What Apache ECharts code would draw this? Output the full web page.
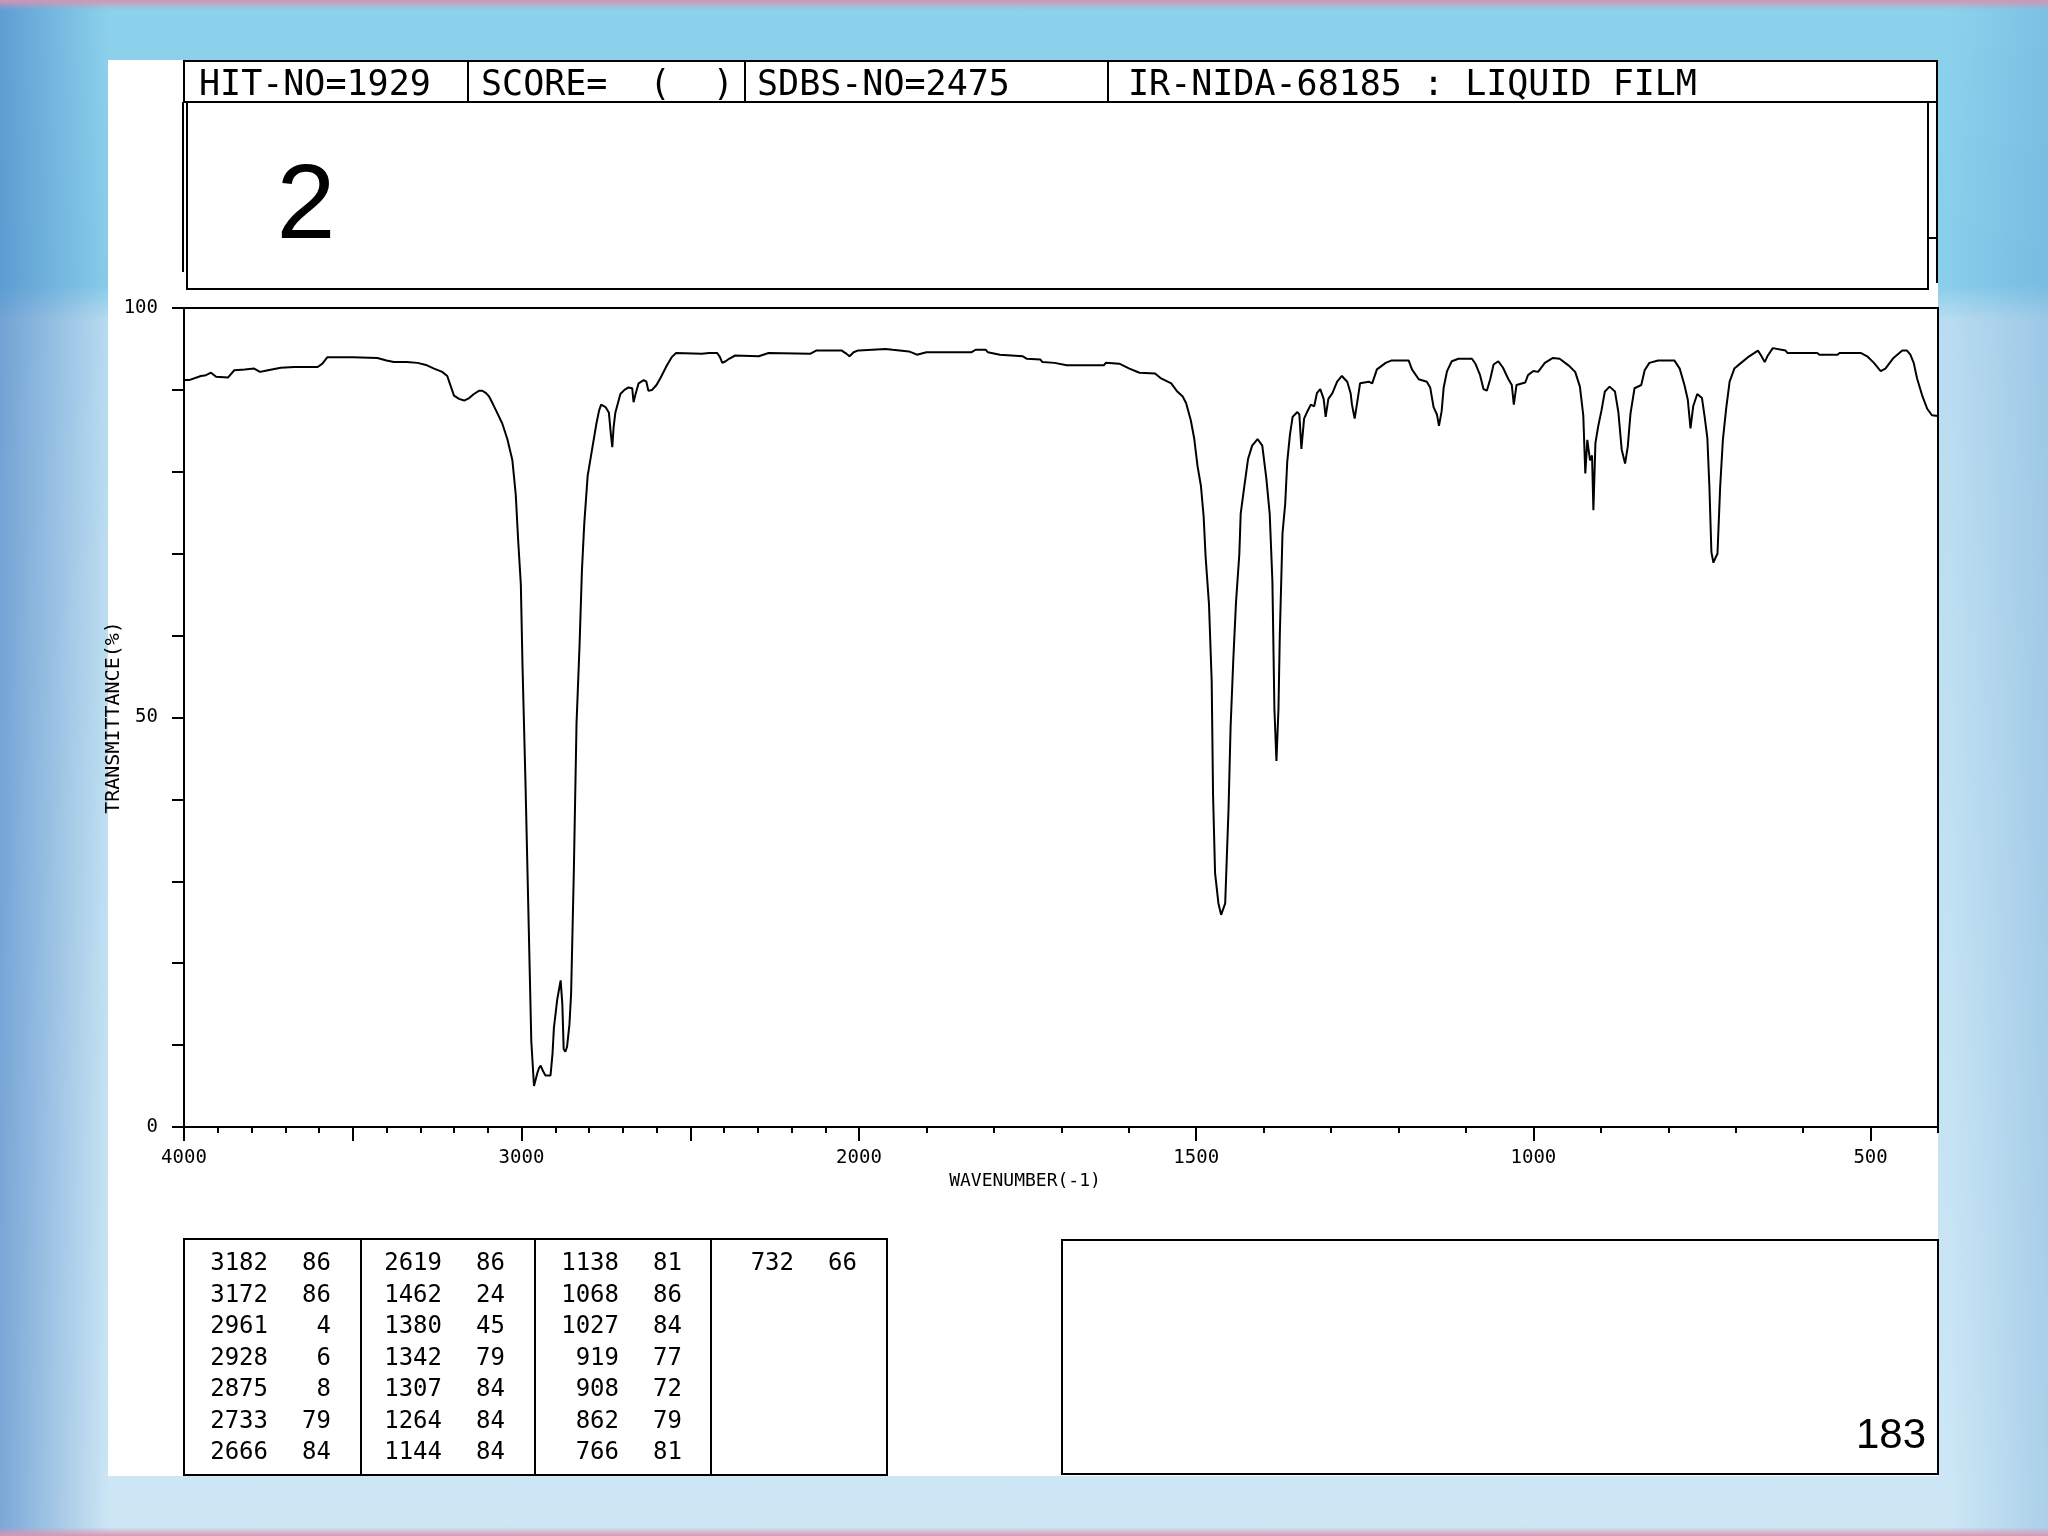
<!DOCTYPE html>
<html><head><meta charset="utf-8">
<script src="https://cdn.jsdelivr.net/npm/echarts@6/dist/echarts.min.js"></script>
<style>
html,body{margin:0;padding:0;width:2048px;height:1536px;overflow:hidden;}
body{
 background:
  linear-gradient(to bottom, rgba(212,148,178,1) 0px, rgba(212,148,178,0) 10px),
  linear-gradient(to top, rgba(218,150,180,1) 0px, rgba(218,150,180,0) 9px),
  linear-gradient(to right, rgba(55,115,190,0.55) 0px, rgba(55,115,190,0) 110px),
  linear-gradient(to left, rgba(70,140,200,0.25) 0px, rgba(70,140,200,0) 100px),
  linear-gradient(to bottom, #8dd2ec 0px, #88cdea 285px, #b9dcf0 320px, #cde7f5 1536px);
}
#chart{width:2048px;height:1536px;}
</style></head><body><div id="chart"></div>
<script>
// ---- spectrum data: 4000-2000 cm-1 (half scale region)
const highWavenumbers = [4000,3985,3950,3935,3920,3905,3870,3851,3820,3792,3775,3762,3740,3713,3674,3604,3590,3575,3500,3427,3400,3378,3340,3308,3280,3259,3235,3220,3210,3200,3185,3170,3155,3141,3125,3116,3105,3096,3085,3072,3057,3042,3027,3017,3010,3002,2997,2988,2978,2971,2963,2958,2953,2948,2943,2936,2929,2914,2908,2904,2894,2884,2879,2875,2870,2865,2858,2853,2845,2837,2828,2821,2814,2804,2791,2778,2770,2764,2751,2741,2735,2731,2727,2722,2707,2695,2683,2672,2668,2662,2653,2638,2630,2624,2613,2600,2589,2569,2555,2542,2466,2444,2420,2412,2405,2395,2385,2367,2297,2268,2145,2127,2051,2040,2028,2016,2004,2000];
const highTransmittance = [91.2,91.2,91.7,91.8,92.1,91.6,91.5,92.4,92.5,92.6,92.2,92.3,92.5,92.7,92.8,92.8,93.2,94.0,94.0,93.9,93.6,93.4,93.4,93.3,93.0,92.6,92.2,91.7,90.5,89.3,88.9,88.7,89.0,89.5,89.9,89.9,89.6,89.2,88.3,87.2,85.9,84.0,81.4,77.2,71.7,66.3,56.3,41.7,23.4,10.5,5.0,5.2,6.6,7.2,7.5,6.8,6.3,6.3,9.0,12.1,15.6,17.9,15.0,9.5,9.2,9.8,12.5,16.3,31.1,49.2,58.8,67.9,73.7,79.5,82.7,85.9,87.5,88.2,87.9,87.2,84.5,83.0,85.5,87.2,89.5,90.0,90.3,90.2,88.5,89.5,90.8,91.2,91.0,89.9,90.0,90.6,91.4,93.0,94.0,94.5,94.4,94.5,94.5,94.0,93.3,93.5,93.8,94.2,94.1,94.5,94.4,94.8,94.8,94.5,94.1,94.6,94.8,94.8];
// ---- spectrum data: 2000-400 cm-1
const lowWavenumbers = [2000,1961,1950,1926,1914,1900,1891,1833,1827,1812,1809,1791,1757,1751,1731,1728,1710,1692,1637,1634,1614,1599,1584,1561,1552,1537,1528,1520,1515,1508,1503,1498,1493,1489,1486,1481,1477,1475,1472,1467,1463,1457,1452,1449,1445,1441,1436,1434,1429,1423,1417,1409,1402,1396,1391,1387,1384,1381,1378,1376,1372,1368,1365,1361,1357,1350,1347,1344,1340,1335,1330,1325,1321,1316,1311,1308,1304,1298,1291,1284,1276,1271,1269,1265,1261,1257,1244,1239,1232,1219,1210,1185,1180,1170,1158,1153,1148,1143,1140,1136,1133,1128,1121,1111,1091,1086,1079,1074,1069,1064,1059,1052,1045,1037,1032,1029,1025,1012,1008,1000,993,983,971,961,948,938,931,926,923,920,916,913,911,908,904,899,894,887,879,874,869,864,860,856,850,840,835,828,815,791,783,776,771,767,763,757,750,746,742,739,736,733,730,727,723,719,714,709,702,692,680,667,663,657,653,645,626,623,579,576,549,546,514,505,495,485,478,466,453,446,441,436,431,423,416,409,400];
const lowTransmittance = [94.8,95.0,94.9,94.7,94.3,94.6,94.6,94.6,94.9,94.9,94.6,94.3,94.1,93.8,93.7,93.4,93.3,93.0,93.0,93.3,93.2,92.6,92.1,92.0,91.4,90.8,89.8,89.2,88.4,86.3,84.1,80.7,78.3,74.6,69.6,63.8,54.4,40.6,31.0,27.3,25.9,27.3,38.9,48.8,57.0,64.0,70.0,74.9,78.0,81.6,83.2,84.0,83.2,79.2,74.9,66.7,51.0,44.7,51.0,60.1,72.5,76.1,81.2,84.5,86.7,87.3,87.0,82.8,86.5,87.4,88.2,88.0,89.6,90.1,88.9,86.7,88.9,89.6,91.0,91.7,91.0,89.6,88.2,86.5,88.6,90.8,91.0,90.8,92.5,93.3,93.6,93.6,92.5,91.3,91.0,90.3,87.9,87.0,85.6,87.4,90.3,92.3,93.5,93.8,93.8,93.2,91.8,90.1,89.9,91.3,93.1,93.5,92.7,91.3,90.6,88.2,90.6,90.9,91.8,92.3,92.2,93.3,93.9,93.8,93.0,92.2,90.4,86.9,79.8,83.9,81.4,82.0,75.3,83.5,85.5,87.5,89.8,90.4,89.8,87.3,82.7,81.0,83.1,87.1,90.2,90.6,92.4,93.3,93.6,93.6,92.6,90.6,88.8,85.3,88.0,89.5,89.0,86.7,84.1,78.2,70.2,68.9,69.5,70.0,78.2,83.9,87.8,91.0,92.6,93.3,94.1,94.8,94.3,93.4,94.1,95.1,94.8,94.5,94.5,94.3,94.3,94.5,94.5,94.1,93.3,92.3,92.6,93.9,94.8,94.8,94.3,93.3,91.4,89.2,87.7,86.9,86.8];

// ---- tick labels
const yTickLabels = [0, 50, 100];
const xTickLabelsHigh = [4000, 3000, 2000];
const xTickLabelsLow = [1500, 1000, 500];
const xMajorTicksLow = [500, 1000, 1500, 2000];

// ---- header / titles
const headerCells = ['HIT-NO=1929', 'SCORE=  (  )', 'SDBS-NO=2475', 'IR-NIDA-68185 : LIQUID FILM'];
const compoundNumber = '2';
const pageNumber = '183';
const yAxisTitle = 'TRANSMITTANCE(%)';
const xAxisTitle = 'WAVENUMBER(-1)';

// ---- peak table (wavenumber, transmittance)
const peakColumn1 = [[3182,86],[3172,86],[2961,4],[2928,6],[2875,8],[2733,79],[2666,84]];
const peakColumn2 = [[2619,86],[1462,24],[1380,45],[1342,79],[1307,84],[1264,84],[1144,84]];
const peakColumn3 = [[1138,81],[1068,86],[1027,84],[919,77],[908,72],[862,79],[766,81]];
const peakColumn4 = [[732,66]];

const MONO = '"DejaVu Sans Mono", "Liberation Mono", monospace';
const SANS = '"Liberation Sans", Arial, sans-serif';

const chart = echarts.init(document.getElementById('chart'), null, {renderer: 'canvas'});

const blackLine = {color: '#000', width: 2};
const axisLblBase = {color: '#000', fontFamily: MONO, fontSize: 19};

// graphic elements
const g = [];
g.push({type: 'rect', z: -10, shape: {x: 108, y: 60, width: 1830, height: 1416}, style: {fill: '#fff'}});
// header
g.push({type: 'rect', shape: {x: 184, y: 61, width: 1753, height: 41}, style: {fill: 'none', stroke: '#000', lineWidth: 2}});
const headerX = [199, 481, 757, 1128];
const dividerX = [468, 745, 1108];
dividerX.forEach(x => g.push({type: 'line', shape: {x1: x, y1: 61, x2: x, y2: 102}, style: {stroke: '#000', lineWidth: 2}}));
headerCells.forEach((t, i) => g.push({type: 'text', style: {text: t, x: headerX[i], y: 86, font: '35px ' + MONO, fill: '#000', align: 'left', verticalAlign: 'middle', textAlign: 'left', textVerticalAlign: 'middle'}}));
// compound box
g.push({type: 'rect', shape: {x: 187, y: 102, width: 1741, height: 187}, style: {fill: 'none', stroke: '#000', lineWidth: 2}});
g.push({type: 'polyline', shape: {points: [[183, 102], [183, 272]]}, style: {stroke: '#000', lineWidth: 2, fill: 'none'}});
g.push({type: 'polyline', shape: {points: [[1937, 102], [1937, 283]]}, style: {stroke: '#000', lineWidth: 2, fill: 'none'}});
g.push({type: 'line', shape: {x1: 1928, y1: 238, x2: 1937, y2: 238}, style: {stroke: '#000', lineWidth: 2}});
g.push({type: 'text', style: {text: compoundNumber, x: 306, y: 209, font: '106px ' + SANS, fill: '#000', align: 'center', verticalAlign: 'middle', textAlign: 'center', textVerticalAlign: 'middle'}});
// x axis title
g.push({type: 'text', style: {text: xAxisTitle, x: 1025, y: 1181, font: '18px ' + MONO, fill: '#000', align: 'center', verticalAlign: 'middle', textAlign: 'center', textVerticalAlign: 'middle'}});
// peak table
g.push({type: 'rect', shape: {x: 184, y: 1239, width: 703, height: 236}, style: {fill: 'none', stroke: '#000', lineWidth: 2}});
[361, 535, 711].forEach(x => g.push({type: 'line', shape: {x1: x, y1: 1239, x2: x, y2: 1475}, style: {stroke: '#000', lineWidth: 2}}));
const peakColumns = [peakColumn1, peakColumn2, peakColumn3, peakColumn4];
const wnRight = [268, 442, 619, 794];
const valRight = [331, 505, 682, 857];
peakColumns.forEach((col, c) => col.forEach((row, r) => {
  const y = 1264 + r * 31.5;
  g.push({type: 'text', style: {text: String(row[0]), x: wnRight[c], y: y, font: '24px ' + MONO, fill: '#000', align: 'right', verticalAlign: 'middle', textAlign: 'right', textVerticalAlign: 'middle'}});
  g.push({type: 'text', style: {text: String(row[1]), x: valRight[c], y: y, font: '24px ' + MONO, fill: '#000', align: 'right', verticalAlign: 'middle', textAlign: 'right', textVerticalAlign: 'middle'}});
}));
// right box + page number
g.push({type: 'rect', shape: {x: 1062, y: 1240, width: 876, height: 234}, style: {fill: 'none', stroke: '#000', lineWidth: 2}});
g.push({type: 'text', style: {text: pageNumber, x: 1926, y: 1436, font: '42px ' + SANS, fill: '#000', align: 'right', verticalAlign: 'middle', textAlign: 'right', textVerticalAlign: 'middle'}});

const option = {
  animation: false,
  backgroundColor: 'transparent',
  grid: [
    {left: 184, top: 308, width: 675, height: 819},
    {left: 859, top: 308, width: 1079, height: 819}
  ],
  xAxis: [
    { // 4000-2000 bottom
      type: 'value', gridIndex: 0, min: 2000, max: 4000, inverse: true, interval: 500, position: 'bottom',
      axisLine: {show: true, lineStyle: blackLine},
      axisTick: {show: true, length: 14, lineStyle: blackLine},
      minorTick: {show: true, splitNumber: 5, length: 6, lineStyle: blackLine},
      splitLine: {show: false}, minorSplitLine: {show: false},
      axisLabel: Object.assign({margin: 22, showMinLabel: true, showMaxLabel: true,
        formatter: v => (xTickLabelsHigh.indexOf(v) >= 0 ? String(v) : '')}, axisLblBase)
    },
    { // 4000-2000 top frame
      type: 'value', gridIndex: 0, min: 2000, max: 4000, inverse: true, position: 'top',
      axisLine: {show: true, lineStyle: blackLine}, axisTick: {show: false}, axisLabel: {show: false}, splitLine: {show: false}
    },
    { // 2000-400 bottom, short ticks every 100
      type: 'value', gridIndex: 1, min: 400, max: 2000, inverse: true, interval: 100, position: 'bottom',
      axisLine: {show: true, lineStyle: blackLine},
      axisTick: {show: true, length: 6, lineStyle: blackLine},
      splitLine: {show: false},
      axisLabel: Object.assign({margin: 22, showMinLabel: true, showMaxLabel: true,
        formatter: v => (xTickLabelsLow.indexOf(v) >= 0 ? String(v) : '')}, axisLblBase)
    },
    { // 2000-400 long ticks
      type: 'value', gridIndex: 1, min: 400, max: 2000, inverse: true, position: 'bottom', offset: 0,
      axisLine: {show: false},
      axisTick: {show: true, length: 14, lineStyle: blackLine, customValues: xMajorTicksLow},
      axisLabel: {show: false}, splitLine: {show: false}
    },
    { // 2000-400 top frame
      type: 'value', gridIndex: 1, min: 400, max: 2000, inverse: true, position: 'top',
      axisLine: {show: true, lineStyle: blackLine}, axisTick: {show: false}, axisLabel: {show: false}, splitLine: {show: false}
    }
  ],
  yAxis: [
    {
      type: 'value', gridIndex: 0, min: 0, max: 100, interval: 10, position: 'left',
      axisLine: {show: true, lineStyle: blackLine},
      axisTick: {show: true, length: 12, lineStyle: blackLine},
      splitLine: {show: false},
      axisLabel: Object.assign({margin: 26, formatter: v => (yTickLabels.indexOf(v) >= 0 ? String(v) : '')}, axisLblBase),
      name: yAxisTitle, nameLocation: 'middle', nameGap: 60, nameRotate: 90, nameMoveOverlap: false,
      nameTextStyle: {color: '#000', fontFamily: MONO, fontSize: 20}
    },
    {
      type: 'value', gridIndex: 1, min: 0, max: 100, position: 'right',
      axisLine: {show: true, lineStyle: blackLine}, axisTick: {show: false}, axisLabel: {show: false}, splitLine: {show: false}
    }
  ],
  series: [
    {
      type: 'line', xAxisIndex: 0, yAxisIndex: 0, symbol: 'none', silent: true,
      lineStyle: {color: '#000', width: 2},
      data: highWavenumbers.map((w, i) => [w, highTransmittance[i]])
    },
    {
      type: 'line', xAxisIndex: 2, yAxisIndex: 1, symbol: 'none', silent: true,
      lineStyle: {color: '#000', width: 2},
      data: lowWavenumbers.map((w, i) => [w, lowTransmittance[i]])
    }
  ],
  graphic: g
};
chart.setOption(option);
</script>
</body></html>
